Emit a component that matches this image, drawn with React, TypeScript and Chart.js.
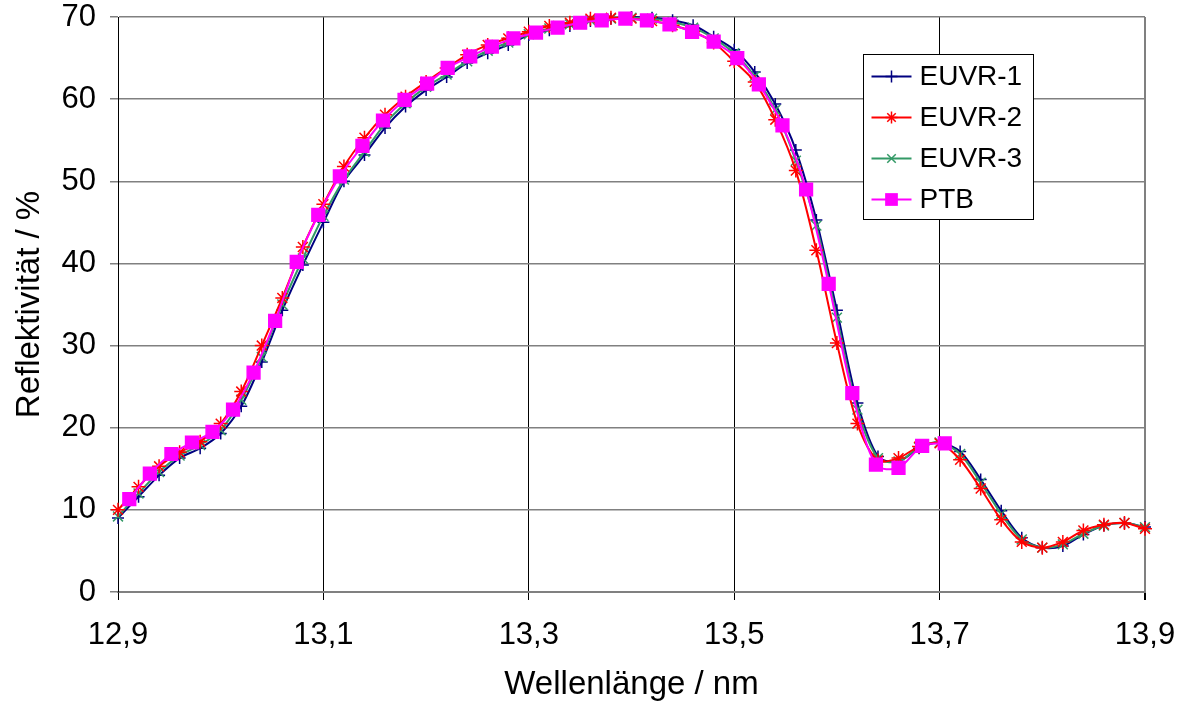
import React, { useEffect, useRef } from "react";
import { Chart, registerables } from "chart.js";

Chart.register(...registerables);

const xTicks = [12.9, 13.1, 13.3, 13.5, 13.7, 13.9];
const yTicks = [0, 10, 20, 30, 40, 50, 60, 70];

const xEuvr = [
  12.9, 12.92, 12.94, 12.96, 12.98, 13.0, 13.02, 13.04, 13.06, 13.08,
  13.1, 13.12, 13.14, 13.16, 13.18, 13.2, 13.22, 13.24, 13.26, 13.28,
  13.3, 13.32, 13.34, 13.36, 13.38, 13.4, 13.42, 13.44, 13.46, 13.48,
  13.5, 13.52, 13.54, 13.56, 13.58, 13.6, 13.62, 13.64, 13.66, 13.68,
  13.7, 13.72, 13.74, 13.76, 13.78, 13.8, 13.82, 13.84, 13.86, 13.88, 13.9,
];

const euvr1 = [
  9.0, 11.6, 14.2, 16.3, 17.5, 19.3, 22.6, 28.0, 34.3, 39.8,
  45.0, 50.0, 53.2, 56.5, 59.1, 61.1, 62.7, 64.4, 65.6, 66.6,
  67.8, 68.4, 68.9, 69.5, 69.8, 70.0, 69.9, 69.6, 69.0, 67.6,
  66.0, 63.3, 59.4, 53.8, 45.3, 34.3, 23.0, 16.5, 15.9, 17.5,
  18.2, 17.1, 13.7, 9.9, 6.6, 5.4, 5.6, 7.0, 8.1, 8.4, 7.9,
];

const euvr2 = [
  10.0, 12.8, 15.3, 17.0, 18.3, 20.5, 24.4, 30.0, 35.8, 42.0,
  47.2, 51.8, 55.3, 58.1, 60.3, 62.1, 63.8, 65.4, 66.6, 67.4,
  68.2, 68.9, 69.3, 69.8, 69.9, 69.8, 69.5, 69.0, 68.2, 66.9,
  64.6, 62.1, 57.5, 51.3, 41.6, 30.3, 20.5, 16.0, 16.3, 17.7,
  18.1, 16.1, 12.6, 8.8, 6.1, 5.4, 6.1, 7.5, 8.2, 8.4, 7.7,
];

const euvr3 = [
  9.2, 12.0, 14.6, 16.6, 17.9, 19.7, 23.4, 28.6, 35.0, 40.6,
  45.8, 50.2, 53.6, 57.0, 59.5, 61.5, 63.0, 64.6, 65.9, 66.9,
  67.9, 68.6, 69.1, 69.6, 69.8, 69.9, 69.8, 69.4, 68.7, 67.4,
  65.6, 62.8, 58.7, 52.5, 44.6, 33.4, 22.2, 16.3, 15.9, 17.6,
  18.2, 16.8, 13.3, 9.5, 6.4, 5.4, 5.8, 7.1, 8.1, 8.4, 7.9,
];

const xPtb = [
  12.911, 12.931, 12.952, 12.972, 12.992, 13.012, 13.032, 13.053, 13.074, 13.095,
  13.116, 13.138, 13.158, 13.179, 13.201, 13.221, 13.243, 13.264, 13.285, 13.307,
  13.328, 13.35, 13.371, 13.394, 13.415, 13.437, 13.459, 13.48, 13.503, 13.524,
  13.547, 13.57, 13.592, 13.615, 13.638, 13.66, 13.683, 13.705,
];

const ptb = [
  11.3, 14.4, 16.8, 18.2, 19.5, 22.2, 26.7, 33.0, 40.2, 45.9,
  50.6, 54.3, 57.4, 59.9, 61.9, 63.8, 65.2, 66.4, 67.4, 68.1,
  68.7, 69.3, 69.6, 69.8, 69.6, 69.1, 68.2, 67.0, 65.0, 61.8,
  56.8, 49.0, 37.5, 24.2, 15.5, 15.1, 17.8, 18.1,
];

const seriesNames = ["EUVR-1", "EUVR-2", "EUVR-3", "PTB"];
const seriesColors = ["#000080", "#ff0000", "#339966", "#ff00ff"];
const seriesMarkers = ["cross", "star", "crossRot", "rect"];
const seriesRadius = [6, 7, 7, 9];

const FONT = "'Liberation Sans', Arial, sans-serif";

function toPoints(xs: number[], ys: number[]) {
  return xs.map((x, i) => ({ x, y: ys[i] }));
}

function drawMarker(ctx: CanvasRenderingContext2D, style: string, x: number, y: number, r: number, color: string) {
  ctx.save();
  ctx.strokeStyle = color;
  ctx.fillStyle = color;
  ctx.lineWidth = 1.5;
  const d = r * Math.SQRT1_2;
  if (style === "rect") {
    ctx.fillRect(x - d, y - d, 2 * d, 2 * d);
  } else {
    ctx.beginPath();
    if (style === "cross" || style === "star") {
      ctx.moveTo(x - r, y);
      ctx.lineTo(x + r, y);
      ctx.moveTo(x, y - r);
      ctx.lineTo(x, y + r);
    }
    if (style === "crossRot" || style === "star") {
      ctx.moveTo(x - d, y - d);
      ctx.lineTo(x + d, y + d);
      ctx.moveTo(x - d, y + d);
      ctx.lineTo(x + d, y - d);
    }
    ctx.stroke();
  }
  ctx.restore();
}

const boxLegend = {
  id: "boxLegend",
  afterDraw(chart: any) {
    const ctx: CanvasRenderingContext2D = chart.ctx;
    const area = chart.chartArea;
    const x0 = Math.round(area.left + 745) + 0.5;
    const y0 = Math.round(area.top + 37) + 0.5;
    const w = 170;
    const h = 165;
    ctx.save();
    ctx.fillStyle = "#ffffff";
    ctx.fillRect(x0, y0, w, h);
    ctx.strokeStyle = "#000000";
    ctx.lineWidth = 1;
    ctx.strokeRect(x0, y0, w, h);
    ctx.font = `28px ${FONT}`;
    ctx.textBaseline = "middle";
    ctx.textAlign = "left";
    seriesNames.forEach((name, i) => {
      const cy = y0 + 22 + i * 41;
      ctx.strokeStyle = seriesColors[i];
      ctx.lineWidth = 2;
      ctx.beginPath();
      ctx.moveTo(x0 + 8, cy);
      ctx.lineTo(x0 + 48, cy);
      ctx.stroke();
      drawMarker(ctx, seriesMarkers[i], x0 + 28, cy, seriesMarkers[i] === "rect" ? 9 : 6, seriesColors[i]);
      ctx.fillStyle = "#000000";
      ctx.fillText(name, x0 + 56, cy + 1);
    });
    ctx.restore();
  },
};

export default function App() {
  const ref = useRef<HTMLCanvasElement | null>(null);

  useEffect(() => {
    if (!ref.current) return;
    const ys = [euvr1, euvr2, euvr3, ptb];
    const xs = [xEuvr, xEuvr, xEuvr, xPtb];
    const drawOrder = [3, 1, 2, 0];
    const chart = new Chart(ref.current, {
      type: "line",
      data: {
        datasets: seriesNames.map((name, i) => ({
          label: name,
          data: toPoints(xs[i], ys[i]),
          borderColor: seriesColors[i],
          backgroundColor: seriesColors[i],
          borderWidth: 2,
          pointStyle: seriesMarkers[i] as any,
          pointRadius: seriesRadius[i],
          pointBorderWidth: 1.5,
          pointBorderColor: seriesColors[i],
          pointBackgroundColor: seriesColors[i],
          tension: 0.3,
          fill: false,
          clip: false as any,
          order: drawOrder[i],
        })),
      },
      options: {
        responsive: false,
        animation: false,
        events: [],
        layout: { padding: { top: 17, right: 44, bottom: 0, left: 0 } },
        plugins: {
          legend: { display: false },
          tooltip: { enabled: false },
        },
        scales: {
          x: {
            type: "linear",
            min: 12.9,
            max: 13.9,
            afterBuildTicks: (scale: any) => {
              scale.ticks = xTicks.map((v) => ({ value: v }));
            },
            afterFit: (scale: any) => {
              scale.height = 113;
              scale.paddingLeft = 0;
              scale.paddingRight = 0;
              scale.paddingTop = 0;
              scale.paddingBottom = 0;
            },
            grid: {
              color: (c: any) => (c.tick && Math.abs(c.tick.value - 13.9) < 1e-6 ? "#808080" : "#000000"),
              lineWidth: (c: any) => (c.tick && Math.abs(c.tick.value - 13.9) < 1e-6 ? 2 : 1),
              tickColor: "#000000",
              tickLength: 8,
              drawTicks: true,
            },
            border: { display: true, color: "#808080", width: 2 },
            ticks: {
              autoSkip: false,
              maxRotation: 0,
              padding: 20,
              color: "#000000",
              font: { family: FONT, size: 31, lineHeight: 1 },
              callback: (v: any) => Number(v).toFixed(1).replace(".", ","),
            },
            title: {
              display: true,
              text: "Wellenlänge / nm",
              color: "#000000",
              font: { family: FONT, size: 33, lineHeight: 1.2 },
              padding: { top: 0, bottom: 0 },
            },
          },
          y: {
            type: "linear",
            min: 0,
            max: 70,
            afterBuildTicks: (scale: any) => {
              scale.ticks = yTicks.map((v) => ({ value: v }));
            },
            afterFit: (scale: any) => {
              scale.width = 118;
              scale.paddingLeft = 0;
              scale.paddingRight = 0;
              scale.paddingTop = 0;
              scale.paddingBottom = 0;
            },
            grid: {
              color: "#808080",
              lineWidth: 1.5,
              tickLength: 8,
              drawTicks: true,
            },
            border: { display: true, color: "#000000", width: 1 },
            ticks: {
              padding: 14,
              color: "#000000",
              font: { family: FONT, size: 31, lineHeight: 1 },
              callback: (v: any) => String(v),
            },
            title: {
              display: true,
              text: "Reflektivität / %",
              color: "#000000",
              font: { family: FONT, size: 33, lineHeight: 1.2 },
              padding: { top: 10, bottom: 0 },
            },
          },
        },
      },
      plugins: [boxLegend],
    });
    return () => chart.destroy();
  }, []);

  return (
    <div style={{ position: "fixed", left: 0, top: 0, width: 1189, height: 705, background: "#ffffff" }}>
      <canvas ref={ref} width={1189} height={705} style={{ display: "block" }} />
    </div>
  );
}
